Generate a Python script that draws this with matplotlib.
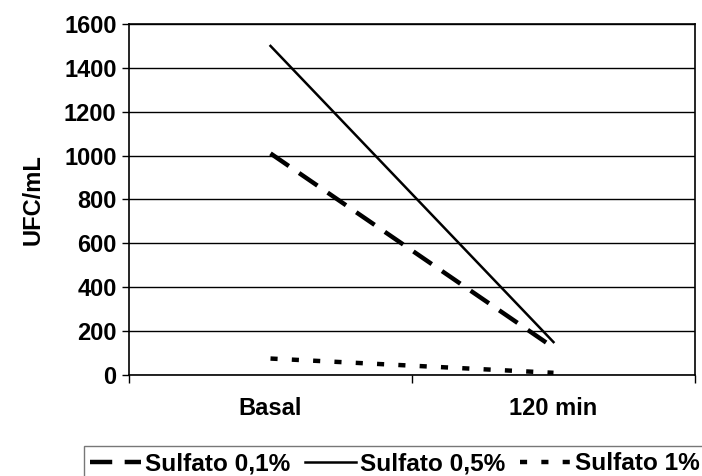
import matplotlib.pyplot as plt

plt.rcParams['font.family'] = ['Liberation Sans', 'DejaVu Sans']
plt.rcParams['font.weight'] = 'bold'
plt.rcParams['axes.labelweight'] = 'bold'

categories = ['Basal', '120 min']
sulfato_01 = [1010, 125]
sulfato_05 = [1500, 150]
sulfato_1 = [75, 10]
series_labels = ['Sulfato 0,1%', 'Sulfato 0,5%', 'Sulfato 1%']
y_ticks = [0, 200, 400, 600, 800, 1000, 1200, 1400, 1600]

fs = 17

fig = plt.figure(figsize=(7.02, 4.76), dpi=100)
ax = fig.add_axes([129 / 702, 1 - 375 / 476, (695 - 129) / 702, (375 - 24) / 476])

x = list(range(len(categories)))
l1, = ax.plot(x, sulfato_01, color='black', lw=3.2, dashes=(5.0, 2.8), solid_capstyle='butt')
l2, = ax.plot(x, sulfato_05, color='black', lw=1.8)
l3, = ax.plot(x, sulfato_1, color='black', lw=3.2, dashes=(1.6, 3.2))

ax.set_xlim(-0.5, 1.5)
ax.set_ylim(0, 1600)
ax.set_yticks(y_ticks)
ax.set_xticks([-0.5, 0.5, 1.5])
ax.set_xticklabels([])
ax.set_xticks(x, minor=True)
ax.set_xticklabels(categories, minor=True)
ax.tick_params(axis='x', which='minor', length=0, pad=16, labelsize=fs)
ax.tick_params(axis='x', which='major', length=6, width=1, direction='out')
ax.tick_params(axis='y', length=5, width=1, direction='out', labelsize=fs, pad=4)
ax.yaxis.grid(True, color='black', lw=1)
ax.set_axisbelow(True)
for s in ax.spines.values():
    s.set_linewidth(1.2)
ax.set_ylabel('UFC/mL', fontsize=fs, labelpad=14)

fig.legend([l1, l2, l3], series_labels, loc='upper left', ncol=3,
           bbox_to_anchor=(84 / 702, 1 - 446 / 476), frameon=True, fancybox=False,
           edgecolor='#555555', fontsize=17.6, handlelength=2.1, handletextpad=0.15,
           columnspacing=0.6, borderpad=0.25, borderaxespad=0)

fig.savefig('out.png', dpi=100)
